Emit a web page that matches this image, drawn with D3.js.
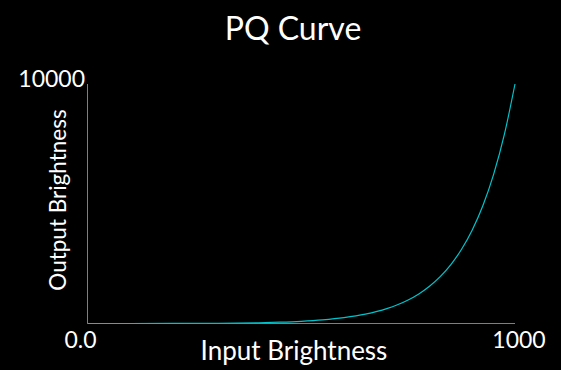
<!DOCTYPE html>
<html><head><meta charset="utf-8">
<script src="https://cdn.jsdelivr.net/npm/d3@7"></script>
<style>
html,body{margin:0;padding:0;background:#000;}
svg{display:block;}
</style></head>
<body>
<script>
// Data
const inputValues  = [0, 100, 200, 300, 400, 450, 500, 550, 600, 650, 700, 725, 750, 775, 800, 825, 850, 875, 900, 925, 950, 975, 1000];
const outputValues = [0, 0.3, 2.4, 10, 32, 55, 92, 151, 244, 390, 621, 782, 983, 1236, 1555, 1956, 2461, 3099, 3907, 4930, 6229, 7884, 10000];
const xTickLabels = [{v: 0, label: "0.0"}, {v: 1000, label: "1000"}];
const yTickLabels = [{v: 10000, label: "10000"}];
const titleText = "PQ Curve";
const xTitle = "Input Brightness";
const yTitle = "Output Brightness";

const W = 561, H = 370;
const font = "Lato, 'Open Sans', sans-serif";
const svg = d3.select("body").append("svg").attr("width", W).attr("height", H)
  .style("background", "#000");

const x = d3.scaleLinear().domain([0, 1000]).range([87.5, 515]);
const y = d3.scaleLinear().domain([0, 10000]).range([323.5, 84]);

// axes
svg.append("line").attr("x1", x(0)).attr("x2", x(1000)).attr("y1", y(0)).attr("y2", y(0))
  .attr("stroke", "#7f7f7f").attr("stroke-width", 1);
svg.append("line").attr("x1", x(0)).attr("x2", x(0)).attr("y1", y(0)).attr("y2", y(10000))
  .attr("stroke", "#7f7f7f").attr("stroke-width", 1);

// curve
const pts = inputValues.map((v, i) => [v, outputValues[i]]);
svg.append("path").datum(pts)
  .attr("d", d3.line().x(d => x(d[0])).y(d => y(d[1])).curve(d3.curveMonotoneX))
  .attr("fill", "none").attr("stroke", "#00c4cc").attr("stroke-width", 1.2);

// tick labels
svg.selectAll(".xt").data(xTickLabels).enter().append("text")
  .attr("x", d => x(d.v) + (d.v === 0 ? -7 : 4)).attr("y", 348)
  .attr("text-anchor", "middle").attr("fill", "#fff")
  .style("font-family", font).style("font-size", "23px").text(d => d.label);
svg.selectAll(".yt").data(yTickLabels).enter().append("text")
  .attr("x", 85).attr("y", y(10000) + 3)
  .attr("text-anchor", "end").attr("fill", "#fff")
  .style("font-family", font).style("font-size", "23px").text(d => d.label);

// titles
svg.append("text").attr("x", 293).attr("y", 40).attr("text-anchor", "middle").attr("fill", "#fff")
  .style("font-family", font).style("font-size", "32px").text(titleText);
svg.append("text").attr("x", 294).attr("y", 360).attr("text-anchor", "middle").attr("fill", "#fff")
  .style("font-family", font).style("font-size", "26px").text(xTitle);
svg.append("text").attr("transform", "translate(66,200) rotate(-90)").attr("text-anchor", "middle").attr("fill", "#fff")
  .style("font-family", font).style("font-size", "22.5px").text(yTitle);
</script>
</body></html>
